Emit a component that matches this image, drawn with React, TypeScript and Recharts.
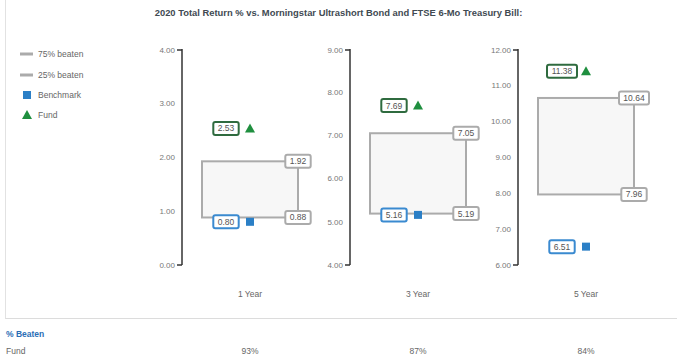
import React from 'react';
import { ComposedChart, Bar, Scatter, XAxis, YAxis } from 'recharts';

const periods = ['1 Year', '3 Year', '5 Year'];
const beaten25 = [0.88, 5.19, 7.96];
const beaten75 = [1.92, 7.05, 10.64];
const benchmark = [0.8, 5.16, 6.51];
const fund = [2.53, 7.69, 11.38];
const yDomains: [number, number][] = [[0, 4], [4, 9], [6, 12]];
const yTicks = [
  [0, 1, 2, 3, 4],
  [4, 5, 6, 7, 8, 9],
  [6, 7, 8, 9, 10, 11, 12],
];
const pctBeaten = ['93%', '87%', '84%'];

const FONT = '"Liberation Sans", Arial, sans-serif';
const GRAY = '#ababab';

// small boxed value label, centered on (x, y)
const ValueTag = ({ x, y, text, border }: { x: number; y: number; text: string; border: string }) => {
  const w = text.length * 4.6 + 7;
  return (
    <g>
      <rect x={x - w / 2} y={y - 6.5} width={w} height={13} rx={2} fill="#fff" stroke={border} strokeWidth={2} />
      <text x={x} y={y} dy="0.35em" textAnchor="middle" fontSize={8.5} fill="#555" fontFamily={FONT}>
        {text}
      </text>
    </g>
  );
};

const BoxShape = (props: any) => {
  const { x, y, width, height, payload } = props;
  return (
    <g>
      <rect x={x} y={y} width={width} height={height} fill="#f7f7f7" stroke={GRAY} strokeWidth={2} />
      <ValueTag x={x + width} y={y} text={payload.high.toFixed(2)} border={GRAY} />
      <ValueTag x={x + width} y={y + height} text={payload.low.toFixed(2)} border={GRAY} />
    </g>
  );
};

const FundShape = (props: any) => {
  const { cx, cy, payload } = props;
  return (
    <g>
      <ValueTag x={cx - 24} y={cy} text={payload.fund.toFixed(2)} border="#2f6b3f" />
      <path d={`M${cx},${cy - 5} L${cx + 5},${cy + 4} L${cx - 5},${cy + 4} Z`} fill="#1f8f3f" />
    </g>
  );
};

const BenchShape = (props: any) => {
  const { cx, cy, payload } = props;
  return (
    <g>
      <ValueTag x={cx - 24} y={cy} text={payload.bench.toFixed(2)} border="#3a8ad0" />
      <rect x={cx - 4} y={cy - 4} width={8} height={8} fill="#2b7fc6" />
    </g>
  );
};

const makeYTick = (domain: [number, number]) => (props: any) => {
  const { x, y, payload } = props;
  const isEnd = payload.value === domain[0] || payload.value === domain[1];
  return (
    <g>
      {isEnd && <line x1={x - 5} x2={x} y1={y} y2={y} stroke="#333" strokeWidth={1.5} />}
      <text x={x - 7} y={y} dy="0.35em" textAnchor="end" fontSize={8} fill="#777" fontFamily={FONT}>
        {payload.value.toFixed(2)}
      </text>
    </g>
  );
};

const Panel = ({ i }: { i: number }) => {
  const data = [
    {
      name: periods[i],
      range: [beaten25[i], beaten75[i]],
      low: beaten25[i],
      high: beaten75[i],
      fund: fund[i],
      bench: benchmark[i],
    },
  ];
  return (
    <div style={{ position: 'absolute', left: 150 + 168 * i, top: 41 }}>
      <ComposedChart width={168} height={264} data={data} margin={{ top: 8, right: 0, bottom: 0, left: 0 }}>
        <XAxis
          dataKey="name"
          height={40}
          axisLine={false}
          tickLine={false}
          tickSize={0}
          tickMargin={26}
          tick={{ fontSize: 8.5, fill: '#666', fontFamily: FONT }}
        />
        <YAxis
          width={32}
          domain={yDomains[i]}
          ticks={yTicks[i]}
          allowDataOverflow
          tickLine={false}
          tickSize={0}
          tickMargin={0}
          axisLine={{ stroke: '#333', strokeWidth: 1.5 }}
          tick={makeYTick(yDomains[i])}
        />
        <Bar dataKey="range" barSize={96} shape={BoxShape} isAnimationActive={false} />
        <Scatter dataKey="bench" shape={BenchShape} isAnimationActive={false} />
        <Scatter dataKey="fund" shape={FundShape} isAnimationActive={false} />
      </ComposedChart>
    </div>
  );
};

const Legend = () => (
  <svg style={{ position: 'absolute', left: 0, top: 40 }} width={120} height={90}>
    <line x1={20} x2={33} y1={14} y2={14} stroke={GRAY} strokeWidth={3} />
    <text x={38} y={14} dy="0.35em" fontSize={8.5} fill="#666" fontFamily={FONT}>75% beaten</text>
    <line x1={20} x2={33} y1={35} y2={35} stroke={GRAY} strokeWidth={3} />
    <text x={38} y={35} dy="0.35em" fontSize={8.5} fill="#666" fontFamily={FONT}>25% beaten</text>
    <rect x={23} y={51} width={8} height={8} fill="#2b7fc6" />
    <text x={38} y={55} dy="0.35em" fontSize={8.5} fill="#666" fontFamily={FONT}>Benchmark</text>
    <path d="M27,70 L32,79 L22,79 Z" fill="#1f8f3f" />
    <text x={38} y={75} dy="0.35em" fontSize={8.5} fill="#666" fontFamily={FONT}>Fund</text>
  </svg>
);

export default function App() {
  return (
    <div style={{ position: 'relative', width: 677, height: 361, fontFamily: FONT, background: '#fff', overflow: 'hidden' }}>
      <style>{'body{margin:0}'}</style>
      <div
        style={{
          position: 'absolute',
          left: 5,
          top: -2,
          width: 700,
          height: 321,
          borderLeft: '1px solid #e2e2e2',
          borderBottom: '1px solid #dcdcdc',
          boxSizing: 'border-box',
        }}
      />
      <div
        style={{
          position: 'absolute',
          left: 0,
          width: 677,
          top: 7,
          textAlign: 'center',
          fontSize: 9.4,
          fontWeight: 'bold',
          color: '#414a52',
        }}
      >
        2020 Total Return % vs. Morningstar Ultrashort Bond and FTSE 6-Mo Treasury Bill:
      </div>
      <Legend />
      {periods.map((_, i) => (
        <Panel key={i} i={i} />
      ))}
      <div style={{ position: 'absolute', left: 6, top: 329, fontSize: 8.5, fontWeight: 'bold', color: '#2a6db5' }}>
        % Beaten
      </div>
      <div style={{ position: 'absolute', left: 6, top: 346, fontSize: 8.5, color: '#666' }}>Fund</div>
      {pctBeaten.map((p, i) => (
        <div
          key={i}
          style={{ position: 'absolute', left: 250 + 168 * i - 30, width: 60, top: 346, textAlign: 'center', fontSize: 8.5, color: '#666' }}
        >
          {p}
        </div>
      ))}
    </div>
  );
}
